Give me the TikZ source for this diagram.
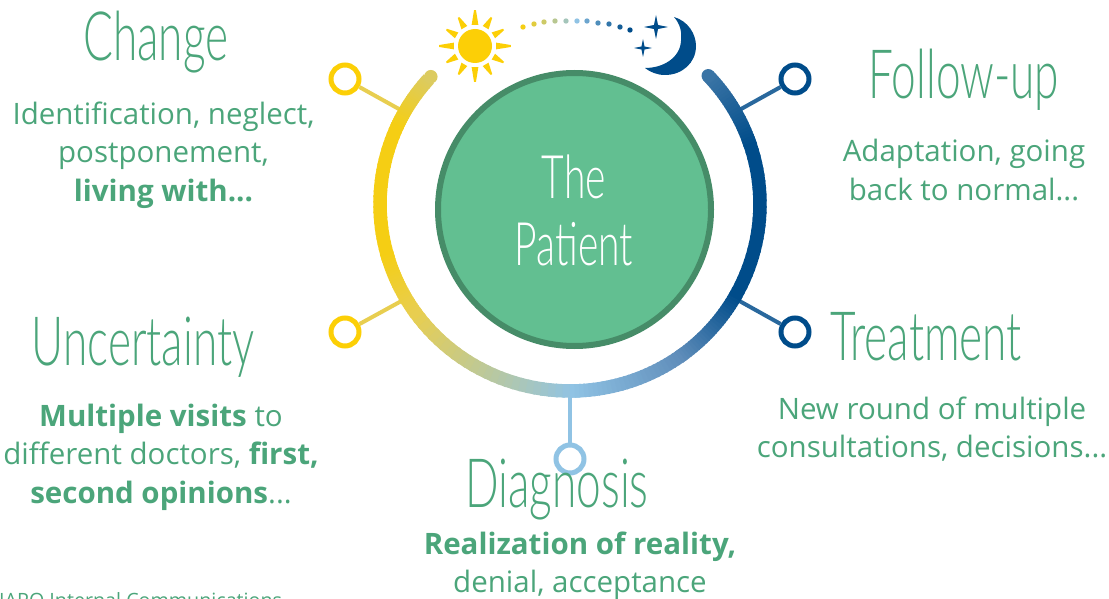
\documentclass[tikz,border=0pt]{standalone}
\usepackage{tikz}
\usepackage{xcolor}
\usepackage{fontspec}
\setmainfont{Open Sans}
\newfontfamily\headfont[FakeStretch=0.65]{Lato Light}
\usetikzlibrary{positioning}

\definecolor{sunyellow}{HTML}{FCCF06}
\definecolor{ringfade}{HTML}{DCCB60}
\definecolor{ringyellow}{HTML}{F5CE14}
\definecolor{ringmid}{HTML}{E8CE50}
\definecolor{ringsky}{HTML}{90C3E4}
\definecolor{ringsteel}{HTML}{5F8DBA}
\definecolor{nightblue}{HTML}{004C8A}
\definecolor{ringend}{HTML}{3A74A5}
\definecolor{patientfill}{HTML}{62BF91}
\definecolor{patientedge}{HTML}{468C68}
\definecolor{textgreen}{HTML}{4BA57A}

\tikzset{
    stagedot/.style={circle, draw=#1, fill=white, line width=5pt, minimum size=28pt, inner sep=0pt},
    stem/.style={draw=#1, line width=4pt},
    headtext/.style={text=textgreen, font=\headfont\fontsize{68}{68}\selectfont, inner sep=0pt},
    bodytext/.style={text=textgreen, align=center, font=\fontsize{29.5}{38.5}\selectfont, inner sep=0pt},
    patienttext/.style={text=white, font=\headfont\fontsize{60}{60}\selectfont, inner sep=0pt},
}

\newcommand{\fourstar}[3]{%
    \fill[nightblue] (#1,#2-#3) -- (#1+0.17*#3,#2-0.17*#3) -- (#1+#3,#2) -- (#1+0.17*#3,#2+0.17*#3)
        -- (#1,#2+#3) -- (#1-0.17*#3,#2+0.17*#3) -- (#1-#3,#2) -- (#1-0.17*#3,#2-0.17*#3) -- cycle;}

\begin{document}
\begin{tikzpicture}[x=1pt, y=-1pt]
    \useasboundingbox (0,0) rectangle (1109,599);
    \clip (0,0) rectangle (1109,599);

    \node[stagedot=sunyellow] (changedot) at (345,79) {};
    \node[stagedot=sunyellow] (uncertaintydot) at (345,332) {};
    \node[stagedot=ringsky] (diagnosisdot) at (570,459) {};
    \node[stagedot=nightblue] (treatmentdot) at (795,332) {};
    \node[stagedot=nightblue] (followdot) at (795,79) {};

    \coordinate (changering) at (407,113.5);
    \coordinate (uncertaintyring) at (406,298.5);
    \coordinate (diagnosisring) at (570,391);
    \coordinate (treatmentring) at (735,298.5);
    \coordinate (followring) at (733,113.5);

    \draw[stem=ringmid] (changering) -- (changedot);
    \draw[stem=ringmid] (uncertaintyring) -- (uncertaintydot);
    \draw[stem=ringsky] (diagnosisring) -- (diagnosisdot);
    \draw[stem=ringend!70!nightblue] (treatmentring) -- (treatmentdot);
    \draw[stem=ringend!70!nightblue] (followring) -- (followdot);

    % ring
    \begin{scope}[shift={(570,204)}, x=190pt, y=-187pt]
        \foreach \aa/\ab/\ca/\cb in {222/205/ringfade/ringyellow, 205/165/ringyellow/ringyellow, 165/145/ringyellow/ringmid, 145/90/ringmid/ringsky,
                90/55/ringsky/ringsteel, 55/30/ringsteel/nightblue, 30/-18/nightblue/nightblue, -18/-42/nightblue/ringend} {
            \foreach \p in {0,4,...,100} {
                \pgfmathsetmacro{\a}{\aa+(\ab-\aa)*\p/100}
                \pgfmathsetmacro{\b}{\a+(\ab-\aa)*0.055}
                \colorlet{segcolor}{\cb!\p!\ca}
                \draw[segcolor, line width=13.5pt] (\a:1) -- (\b:1);
            }
        }
        \fill[ringfade] (222.9:1) ++(-6.75pt,0) arc[start angle=180, end angle=-180, radius=6.75pt];
        \fill[ringend] (-43.3:1) ++(-6.75pt,0) arc[start angle=180, end angle=-180, radius=6.75pt];
    \end{scope}

    \node[circle, draw=patientedge, fill=patientfill, line width=6pt, minimum size=273pt, inner sep=0pt] (patient) at (574.5,209.5) {};
    \node[patienttext] (the) at (574,177) {The};
    \node[patienttext, below of=the, node distance=67pt] (patientname) {Patient};

    % sun
    \begin{scope}[shift={(475,46)}]
        \fill[sunyellow] (0,0) circle (17);
        \foreach \r/\len in {0/36, 30/33, 60/33, 90/36, 120/33, 150/33, 180/36, 210/33, 240/33, 270/36, 300/33, 330/33} {
            \fill[sunyellow] (\r-9:21.5) -- (\r-1.5:\len) -- (\r+1.5:\len) -- (\r+9:21.5) -- cycle;
        }
    \end{scope}

    % dots
    \foreach \dx/\dy/\p/\ca/\cb in {523/27/0/ringyellow/ringsky, 534/24/20/ringyellow/ringsky, 544/22/40/ringyellow/ringsky, 555/21/60/ringyellow/ringsky,
            566/21/80/ringyellow/ringsky, 577/21/100/ringyellow/ringsky, 587/21/25/ringsky/nightblue, 598/23/45/ringsky/nightblue,
            609/24/65/ringsky/nightblue, 620/27/85/ringsky/nightblue, 630/30/100/ringsky/nightblue} {
        \colorlet{dotcolor}{\cb!\p!\ca}
        \fill[dotcolor] (\dx,\dy) circle (2.7);
    }

    % moon
    \fill[nightblue] (674,17) .. controls (688,21) and (696,34) .. (696,46)
        .. controls (696,63) and (682,75) .. (665,75) .. controls (657,75) and (650,72) .. (645,68)
        .. controls (663,68) and (680,58) .. (681,41) .. controls (682,31) and (680,24) .. (674,17) -- cycle;
    \fourstar{656}{27}{12}
    \fourstar{643}{48}{9}

    \node[headtext] (change) at (156,42) {Change};
    \node[bodytext, below of=change, node distance=113pt, xshift=7.5pt] (changetext) {Identification, neglect,\\postponement,\\\textbf{living with...}};

    \node[headtext] (follow) at (964,80) {Follow-up};
    \node[bodytext, below of=follow, node distance=90pt] (followtext) {Adaptation, going\\back to normal...};

    \node[headtext] (uncertainty) at (143,347) {Uncertainty};
    \node[bodytext, below of=uncertainty, node distance=110pt, xshift=18pt] (uncertaintytext) {\textbf{Multiple visits} to\\different doctors, \textbf{first,}\\\textbf{second opinions}...};

    \node[headtext] (treatment) at (926,337) {Treatment};
    \node[bodytext, below of=treatment, node distance=92pt, xshift=6pt] (treatmenttext) {New round of multiple\\consultations, decisions...};

    \node[headtext] (diagnosis) at (557,490) {Diagnosis};
    \node[bodytext, below of=diagnosis, node distance=76pt, xshift=23pt] (diagnosistext) {\textbf{Realization of reality,}\\denial, acceptance};

    \node[text=textgreen, anchor=base west, inner sep=0pt, font=\fontsize{19.7}{24}\selectfont] (footer) at (-1,607) {IAPO Internal Communications};
\end{tikzpicture}
\end{document}
